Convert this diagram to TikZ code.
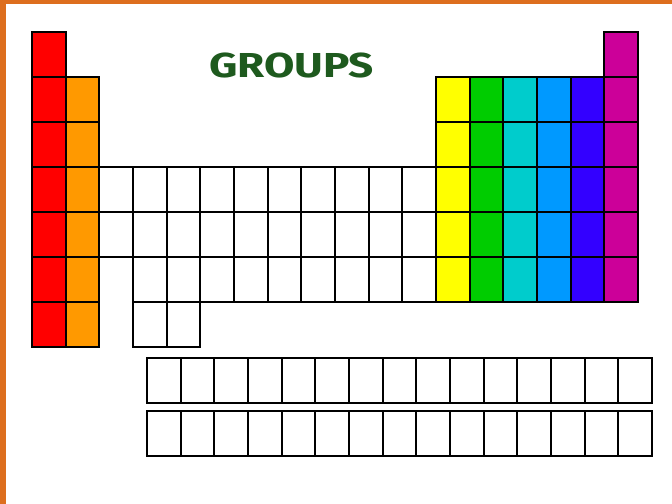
\documentclass[tikz,border=0pt]{standalone}
\usepackage{fontspec}
\newfontfamily\titlefont{Fira Sans}
\usepackage{tikz}
\usetikzlibrary{positioning}

\definecolor{frameorange}{HTML}{DD6E1E}
\definecolor{titlegreen}{HTML}{1E5A1E}
\definecolor{grpred}{HTML}{FF0000}
\definecolor{grporange}{HTML}{FF9900}
\definecolor{grpyellow}{HTML}{FFFF00}
\definecolor{grpgreen}{HTML}{00CC00}
\definecolor{grpcyan}{HTML}{00CCCC}
\definecolor{grpblue}{HTML}{0099FF}
\definecolor{grpviolet}{HTML}{3300FF}
\definecolor{grpmagenta}{HTML}{CC0099}

\tikzset{
  cell/.style={draw=black, line width=1.6pt, line join=miter},
}

% cell size in px
\newcommand{\cw}{33.67}
\newcommand{\ch}{45}

\begin{document}
\begin{tikzpicture}[x=0.75pt, y=-0.75pt]

% Page and frame
\fill[white] (0,0) rectangle (672,504);
\useasboundingbox (0,0) rectangle (672,504);
\fill[frameorange] (0,0) rectangle (6,504);
\fill[frameorange] (0,0) rectangle (672,4);

% Title
\node[titlegreen, font=\titlefont\bfseries\fontsize{26}{26}\selectfont, xscale=1.27] (title) at (291.5,65) {GROUPS};

% Group 1: rows 1-7
\foreach \r in {1,...,7}{
  \draw[cell, fill=grpred] ({32},{32+(\r-1)*\ch}) rectangle ++(\cw,\ch);
}
% Group 2: rows 2-7
\foreach \r in {2,...,7}{
  \draw[cell, fill=grporange] ({32+\cw},{32+(\r-1)*\ch}) rectangle ++(\cw,\ch);
}

% Transition block: rows 4-5, columns 3-12
\foreach \c in {3,...,12}{
  \foreach \r in {4,5}{
    \draw[cell, fill=white] ({32+(\c-1)*\cw},{32+(\r-1)*\ch}) rectangle ++(\cw,\ch);
  }
}
% row 6, columns 4-12
\foreach \c in {4,...,12}{
  \draw[cell, fill=white] ({32+(\c-1)*\cw},{32+5*\ch}) rectangle ++(\cw,\ch);
}
% row 7, columns 4-5
\foreach \c in {4,5}{
  \draw[cell, fill=white] ({32+(\c-1)*\cw},{32+6*\ch}) rectangle ++(\cw,\ch);
}

% Groups 13-17: rows 2-6
\foreach \c/\col in {13/grpyellow,14/grpgreen,15/grpcyan,16/grpblue,17/grpviolet}{
  \foreach \r in {2,...,6}{
    \draw[cell, fill=\col] ({32+(\c-1)*\cw},{32+(\r-1)*\ch}) rectangle ++(\cw,\ch);
  }
}
% Group 18: rows 1-6
\foreach \r in {1,...,6}{
  \draw[cell, fill=grpmagenta] ({32+17*\cw},{32+(\r-1)*\ch}) rectangle ++(\cw,\ch);
}

% Inner transition rows
\foreach \y in {358,411}{
  \foreach \c in {0,...,14}{
    \draw[cell, fill=white] ({147+\c*\cw},\y) rectangle ++(\cw,\ch);
  }
}

\end{tikzpicture}
\end{document}
